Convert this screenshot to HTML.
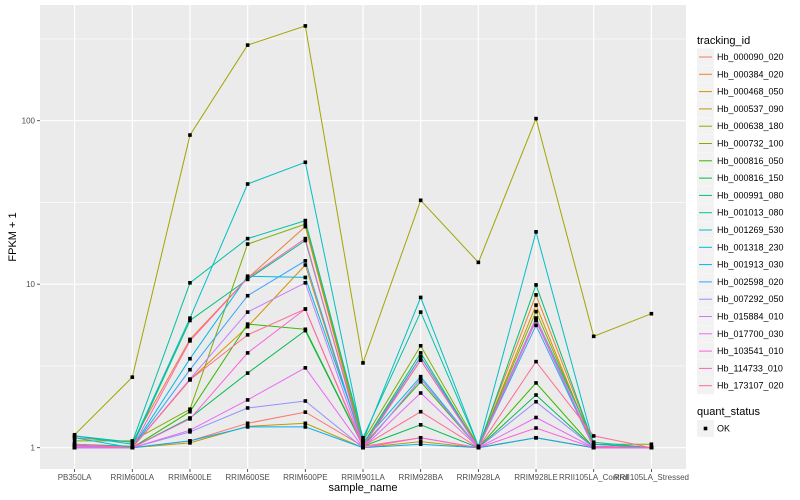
<!DOCTYPE html>
<html><head><meta charset="utf-8"><style>
body{margin:0;background:#fff;}
svg{display:block;font-family:"Liberation Sans",sans-serif;}
</style></head><body>
<svg id="chart" width="800" height="500"></svg>
<script>
const categories=["PB350LA","RRIM600LA","RRIM600LE","RRIM600SE","RRIM600PE","RRIM901LA","RRIM928BA","RRIM928LA","RRIM928LE","RRII105LA_Control","RRII105LA_Stressed"];
const seriesNames=["Hb_000090_020","Hb_000384_020","Hb_000468_050","Hb_000537_090","Hb_000638_180","Hb_000732_100","Hb_000816_050","Hb_000816_150","Hb_000991_080","Hb_001013_080","Hb_001269_530","Hb_001318_230","Hb_001913_030","Hb_002598_020","Hb_007292_050","Hb_015884_010","Hb_017700_030","Hb_103541_010","Hb_114733_010","Hb_173107_020"];
const s1=[1.05,1.0,1.1,1.41,1.65,1.02,1.15,1.0,1.15,1.0,1.0];
const s2=[1.15,1.08,4.6,10.9,22.5,1.05,3.6,1.02,8.6,1.05,1.0];
const s3=[1.02,1.0,2.6,5.5,13.1,1.02,3.43,1.0,7.45,1.02,1.0];
const s4=[1.0,1.0,1.07,1.35,1.41,1.0,1.09,1.0,1.15,1.0,1.0];
const s5=[1.2,2.7,81.7,290,380,3.3,32.6,13.6,103,4.8,6.6];
const s6=[1.1,1.1,1.72,17.6,23.3,1.1,4.2,1.02,6.8,1.05,1.05];
const s7=[1.05,1.0,1.66,5.7,5.3,1.03,2.53,1.0,2.49,1.0,1.0];
const s8=[1.03,1.0,1.52,2.86,5.2,1.02,1.38,1.0,2.1,1.0,1.0];
const s9=[1.05,1.02,6.0,10.7,18.5,1.05,3.8,1.0,9.9,1.05,1.0];
const s10=[1.18,1.08,10.2,19,24.5,1.15,6.75,1.02,6.2,1.08,1.0];
const s11=[1.18,1.05,6.2,41,55.7,1.1,8.3,1.02,20.9,1.05,1.0];
const s12=[1.15,1.0,3.5,11.2,11.0,1.08,2.72,1.0,6.0,1.0,1.0];
const s13=[1.0,1.0,1.1,1.34,1.34,1.0,1.05,1.0,1.15,1.0,1.0];
const s14=[1.03,1.0,3.0,8.5,13.9,1.02,3.6,1.0,5.6,1.0,1.0];
const s15=[1.0,1.0,1.25,1.75,1.93,1.0,2.63,1.0,1.91,1.0,1.0];
const s16=[1.0,1.0,2.63,6.75,10.2,1.0,2.63,1.0,6.2,1.0,1.0];
const s17=[1.0,1.0,1.28,1.96,3.08,1.0,2.16,1.0,1.53,1.0,1.0];
const s18=[1.02,1.0,1.5,3.8,7.05,1.0,1.15,1.0,1.32,1.0,1.0];
const s19=[1.05,1.0,4.5,10.9,19,1.02,3.43,1.0,6.0,1.02,1.0];
const s20=[1.05,1.0,2.6,4.9,7.05,1.02,1.66,1.0,3.36,1.18,1.0];
const seriesValues=[s1,s2,s3,s4,s5,s6,s7,s8,s9,s10,s11,s12,s13,s14,s15,s16,s17,s18,s19,s20];
const yTicks=[1,10,100];
const yTickLabels=["1","10","100"];
const colors=["#F8766D","#EA8331","#D89000","#C09B00","#A3A500","#7CAE00","#39B600","#00BB4E","#00BF7D","#00C1A3","#00BFC4","#00BAE0","#00B0F6","#35A2FF","#9590FF","#C77CFF","#E76BF3","#FA62DB","#FF62BC","#FF6C91"];

const NS="http://www.w3.org/2000/svg";
const svg=document.getElementById('chart');
function el(tag,attrs,parent){const e=document.createElementNS(NS,tag);for(const k in attrs)e.setAttribute(k,attrs[k]);(parent||svg).appendChild(e);return e;}
const PL=40,PR=686,PT=5,PB=469;
const step=(PR-PL)/(categories.length-1+1.2);
function xs(i){return PL+step*(0.6+i);}
function ys(v){return 447.7-163.5*Math.log10(v);}

const panel=el('rect',{x:PL,y:PT,width:PR-PL,height:PB-PT,fill:'#EBEBEB'});


for(let i=0;i<yTicks.length;i++){
  const y=ys(yTicks[i]*Math.sqrt(10));
  if(y>PT){const g=el('line',{x1:PL,x2:PR,y1:y,y2:y,stroke:'#fff','stroke-width':0.6});
  
  }
}
for(let i=0;i<yTicks.length;i++){
  const y=ys(yTicks[i]);
  const g=el('line',{x1:PL,x2:PR,y1:y,y2:y,stroke:'#fff','stroke-width':1.2});
  
  
  const t=el('line',{x1:PL-3,x2:PL,y1:y,y2:y,stroke:'#333','stroke-width':0.8});
  
  
  const l=el('text',{x:PL-5,y:y+3,'text-anchor':'end','font-size':8,fill:'#4D4D4D'});
  l.textContent=yTickLabels[i];
  
  
}
for(let i=0;i<categories.length;i++){
  const x=xs(i);
  const g=el('line',{x1:x,x2:x,y1:PT,y2:PB,stroke:'#fff','stroke-width':1.2});
  
  
  const t=el('line',{x1:x,x2:x,y1:PB,y2:PB+3,stroke:'#333','stroke-width':0.8});
  
  
  const l=el('text',{x:x,y:PB+11,'text-anchor':'middle','font-size':8,fill:'#4D4D4D'});
  l.textContent=categories[i];
  
  
}
for(let s=0;s<seriesValues.length;s++){
  const pts=seriesValues[s].map((v,i)=>xs(i).toFixed(1)+','+ys(v).toFixed(1)).join(' ');
  const p=el('polyline',{points:pts,fill:'none',stroke:colors[s],'stroke-width':1});
  
  
}
for(let s=0;s<seriesValues.length;s++){
  seriesValues[s].forEach((v,i)=>{
    const r=el('rect',{x:xs(i)-1.8,y:ys(v)-1.8,width:3.6,height:3.6,fill:'#000'});
    
    
  });
}
const xt=el('text',{x:(PL+PR)/2,y:491,'text-anchor':'middle','font-size':11,fill:'#000'});
xt.textContent='sample_name';


const yt=el('text',{x:0,y:0,'text-anchor':'middle','font-size':11,fill:'#000',transform:'translate(16,237) rotate(-90)'});
yt.textContent='FPKM + 1';


const lt=el('text',{x:697,y:44,'font-size':11,fill:'#000'});
lt.textContent='tracking_id';


for(let s=0;s<seriesNames.length;s++){
  const cy=57+s*17.3;
  const b=el('rect',{x:697,y:cy-8.5,width:17,height:17,fill:'#F2F2F2'});
  
  
  const ln=el('line',{x1:699,x2:712,y1:cy,y2:cy,stroke:colors[s],'stroke-width':1});
  
  
  const tx=el('text',{x:717,y:cy+3,'font-size':9,fill:'#000'});
  tx.textContent=seriesNames[s];
  
  
}
const qt=el('text',{x:697,y:415,'font-size':11,fill:'#000'});
qt.textContent='quant_status';


const qb=el('rect',{x:697,y:420,width:17,height:17,fill:'#F2F2F2'});


const qp=el('rect',{x:703.7,y:426.7,width:3.6,height:3.6,fill:'#000'});


const qx=el('text',{x:717,y:431.5,'font-size':9,fill:'#000'});
qx.textContent='OK';


</script>
</body></html>
